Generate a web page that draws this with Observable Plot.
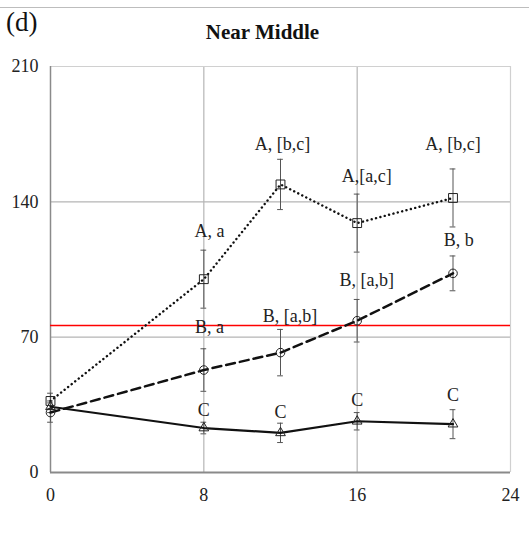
<!DOCTYPE html>
<html><head><meta charset="utf-8">
<script src="https://cdn.jsdelivr.net/npm/d3@7"></script>
<script src="https://cdn.jsdelivr.net/npm/@observablehq/plot@0.6"></script>
<style>
body{margin:0;background:#fff;}
#wrap{position:relative;width:529px;height:540px;font-family:"Liberation Serif","Times New Roman",serif;color:#111;}
#topline{position:absolute;left:0;top:7px;width:529px;height:0;border-top:1.5px solid #bdbdbd;}
#panel{position:absolute;left:6px;top:7px;font-size:27px;line-height:30px;}
#title{position:absolute;left:0;width:529px;text-align:center;top:19px;font-size:21px;line-height:26px;font-weight:bold;}
#chart{position:absolute;left:0;top:0;}
</style></head>
<body><div id="wrap"><div id="chart"></div><div id="topline"></div><div id="panel">(d)</div><div id="title" style="left:-2px">Near Middle</div></div>
<script>
const times = [0, 8, 12, 16, 21];
const squareMean = [37, 100, 149, 129, 142];
const squareErr = [4, 15, 13, 15, 15];
const circleMean = [31, 53, 62, 78.5, 103];
const circleErr = [5, 11, 12, 11, 9];
const triMean = [34, 23, 20.5, 26.5, 25];
const triErr = [3, 3, 5, 4.5, 7.5];
const threshold = 76;
const xTicks = [0, 8, 16, 24];
const yTicks = [0, 70, 140, 210];
const labelText = ["A, a", "A, [b,c]", "A,[a,c]", "A, [b,c]", "B, b", "B, [a,b]", "B, [a,b]", "B, a", "C", "C", "C", "C"];
const labelX = [8.3, 12.1, 16.5, 21.0, 21.3, 16.5, 12.5, 8.3, 8.0, 12.0, 16.0, 21.0];
const labelY = [124.7, 170, 153.4, 170, 119.9, 99.2, 80.6, 75, 32, 31.2, 37.2, 39.8];

const mk = (mean, err) => times.map((t, i) => ({t, m: mean[i], lo: mean[i] - err[i], hi: mean[i] + err[i]}));
const sq = mk(squareMean, squareErr), ci = mk(circleMean, circleErr), tr = mk(triMean, triErr);
const labels = labelText.map((s, i) => ({s, x: labelX[i], y: labelY[i]}));

function errMarks(d) {
  return [
    Plot.ruleX(d, {x: "t", y1: "lo", y2: "hi", stroke: "#555", strokeWidth: 1}),
    Plot.ruleY(d, {y: "hi", x1: d => d.t - 0.15, x2: d => d.t + 0.15, stroke: "#555", strokeWidth: 1}),
    Plot.ruleY(d, {y: "lo", x1: d => d.t - 0.15, x2: d => d.t + 0.15, stroke: "#555", strokeWidth: 1})
  ];
}

const chart = Plot.plot({
  width: 529, height: 540,
  marginLeft: 50, marginRight: 19, marginTop: 66, marginBottom: 68,
  style: {fontFamily: "Liberation Serif, Times New Roman, serif", fontSize: "18px", color: "#222", background: "white"},
  x: {domain: [0, 24], ticks: xTicks},
  y: {domain: [0, 210], ticks: yTicks},
  marks: [
    Plot.gridX([8, 16], {stroke: "#b5b5b5", strokeOpacity: 1, strokeWidth: 1.2}),
    Plot.gridY([70, 140], {stroke: "#b5b5b5", strokeOpacity: 1, strokeWidth: 1.2}),
    Plot.ruleY([210], {stroke: "#d0d0d0", strokeWidth: 1.2}),
    Plot.ruleX([24], {stroke: "#d0d0d0", strokeWidth: 1.2}),
    Plot.ruleX([0], {stroke: "#8a8a8a", strokeWidth: 1.5}),
    Plot.ruleY([0], {stroke: "#8a8a8a", strokeWidth: 2}),
    Plot.ruleY([threshold], {stroke: "#ff0000", strokeWidth: 1.4}),
    Plot.axisX({ticks: xTicks, tickSize: 0, tickPadding: 16, fontSize: 18, fill: "#222", label: null}),
    Plot.axisY({ticks: yTicks, tickSize: 0, tickPadding: 12, fontSize: 18, fill: "#222", label: null}),
    ...errMarks(sq), ...errMarks(ci), ...errMarks(tr),
    Plot.line(sq, {x: "t", y: "m", stroke: "#111", strokeWidth: 2.4, strokeDasharray: "0.1,4.4", strokeLinecap: "round", curve: "linear"}),
    Plot.line(ci, {x: "t", y: "m", stroke: "#111", strokeWidth: 2.5, strokeDasharray: "9,5", curve: "linear"}),
    Plot.line(tr, {x: "t", y: "m", stroke: "#111", strokeWidth: 2.2, curve: "linear"}),
    Plot.dot(sq, {x: "t", y: "m", symbol: "square", r: 5, stroke: "#222", strokeWidth: 1, fill: "none"}),
    Plot.dot(ci, {x: "t", y: "m", symbol: "circle", r: 4.3, stroke: "#222", strokeWidth: 1, fill: "none"}),
    Plot.dot(tr, {x: "t", y: "m", symbol: "triangle", r: 3.6, stroke: "#222", strokeWidth: 1, fill: "none"}),
    Plot.text(labels, {x: "x", y: "y", text: "s", fontSize: 18, fill: "#222"})
  ]
});
document.getElementById("chart").appendChild(chart);
</script></body></html>
